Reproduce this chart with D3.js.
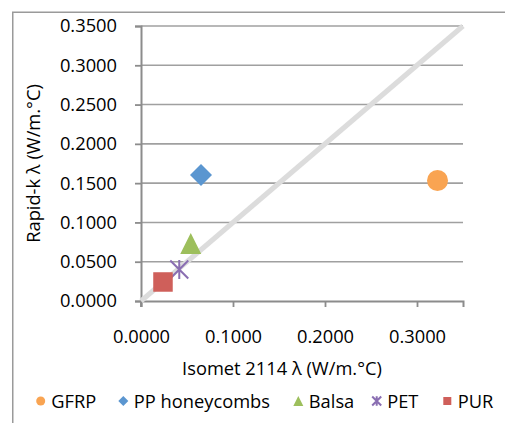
<!DOCTYPE html>
<html>
<head>
<meta charset="utf-8">
<script src="https://cdn.jsdelivr.net/npm/d3@7"></script>
<style>
  html, body { margin: 0; padding: 0; background: #fff; }
  svg text { font-family: "Open Sans", "Noto Sans", sans-serif; fill: #000; }
</style>
</head>
<body>
<svg id="chart" width="505" height="423"></svg>
<script>
// Thermal conductivity: Isomet 2114 vs Rapid-k, one point per material
const materials = ["GFRP", "PP honeycombs", "Balsa", "PET", "PUR"];
const isometValues = [0.3223, 0.0652, 0.0541, 0.0416, 0.0239];
const rapidkValues = [0.1534, 0.1604, 0.0732, 0.0401, 0.0242];
const markerShapes = ["circle", "diamond", "triangle", "star", "square"];
const seriesColors = ["#F9A452", "#5B96D0", "#9DBF5C", "#8A6EB2", "#CF5F5A"];
const xTickValues = [0, 0.1, 0.2, 0.3];
const yTickValues = [0, 0.05, 0.1, 0.15, 0.2, 0.25, 0.3, 0.35];
const xTitle = "Isomet 2114 λ (W/m.°C)";
const yTitle = "Rapid-k λ (W/m.°C)";

const FONT = "'Open Sans', 'Noto Sans', sans-serif";
const FS = 18.3;

const svg = d3.select("#chart");
const fmt = d3.format(".4f");

// outer chart frame (partly outside the view)
svg.append("rect")
  .attr("x", 12.75).attr("y", 12.25)
  .attr("width", 520).attr("height", 440)
  .attr("fill", "none").attr("stroke", "#9a9a9a").attr("stroke-width", 1.5);

const plot = { left: 141, right: 463, top: 26, bottom: 301 };
const x = d3.scaleLinear().domain([0, 0.35]).range([plot.left, plot.right]);
const y = d3.scaleLinear().domain([0, 0.35]).range([plot.bottom, plot.top]);

// horizontal gridlines
svg.append("g")
  .selectAll("line")
  .data(yTickValues.filter(v => v > 0))
  .join("line")
  .attr("x1", plot.left).attr("x2", plot.right)
  .attr("y1", d => y(d)).attr("y2", d => y(d))
  .attr("stroke", "#a0a0a0").attr("stroke-width", 1.6);

// y axis
const yAxis = svg.append("g")
  .attr("transform", `translate(${plot.left},0)`)
  .call(d3.axisLeft(y).tickValues(yTickValues).tickFormat(fmt).tickSize(6).tickPadding(18));
yAxis.select(".domain").attr("stroke", "#8c8c8c").attr("stroke-width", 2);
yAxis.selectAll(".tick line").attr("stroke", "#8c8c8c").attr("stroke-width", 1.8);
yAxis.selectAll(".tick text")
  .attr("font-size", FS).attr("font-family", FONT).attr("fill", "#000");

// x axis
const xAxis = svg.append("g")
  .attr("transform", `translate(0,${plot.bottom})`)
  .call(d3.axisBottom(x).tickValues(xTickValues).tickFormat(fmt).tickSize(6).tickPadding(23));
xAxis.select(".domain").attr("stroke", "#8c8c8c").attr("stroke-width", 2);
xAxis.selectAll(".tick line").attr("stroke", "#8c8c8c").attr("stroke-width", 1.8);
xAxis.selectAll(".tick text")
  .attr("font-size", FS).attr("font-family", FONT).attr("fill", "#000");
// y axis domain drawn down past the baseline like a tick
svg.append("line")
  .attr("x1", plot.left).attr("x2", plot.left)
  .attr("y1", plot.bottom).attr("y2", plot.bottom + 6)
  .attr("stroke", "#8c8c8c").attr("stroke-width", 1.8);

// 1:1 reference line
svg.append("line")
  .attr("x1", x(0)).attr("y1", y(0))
  .attr("x2", x(0.35)).attr("y2", y(0.35))
  .attr("stroke", "#dcdcdc").attr("stroke-width", 5);

// marker painter
function drawMarker(g, shape, color, s) {
  if (shape === "circle") {
    g.append("circle").attr("r", s / 2).attr("fill", color);
  } else if (shape === "diamond") {
    const h = s / 2;
    g.append("path").attr("d", `M0,${-h}L${h},0L0,${h}L${-h},0Z`).attr("fill", color);
  } else if (shape === "triangle") {
    const h = s / 2;
    g.append("path").attr("d", `M0,${-h}L${h},${h}L${-h},${h}Z`).attr("fill", color);
  } else if (shape === "square") {
    g.append("rect").attr("x", -s / 2).attr("y", -s / 2)
      .attr("width", s).attr("height", s).attr("fill", color);
  } else if (shape === "star") {
    const h = s / 2;
    g.append("path")
      .attr("d", `M${-h},${-h}L${h},${h}M${h},${-h}L${-h},${h}M0,${-h * 1.05}L0,${h * 1.05}`)
      .attr("stroke", color).attr("stroke-width", 2).attr("fill", "none");
  }
}

const markerSizes = [21, 22, 21, 18, 19.5];

// data points
materials.forEach((m, i) => {
  const g = svg.append("g")
    .attr("transform", `translate(${x(isometValues[i])},${y(rapidkValues[i])})`);
  drawMarker(g, markerShapes[i], seriesColors[i], markerSizes[i]);
});

// axis titles
svg.append("text")
  .attr("x", 282).attr("y", 374.5)
  .attr("text-anchor", "middle").attr("font-size", FS).attr("font-family", FONT)
  .text(xTitle);
svg.append("text")
  .attr("transform", "translate(39.5,163.5) rotate(-90)")
  .attr("text-anchor", "middle").attr("font-size", FS).attr("font-family", FONT)
  .text(yTitle);

// legend
const legendMarkX = [40.7, 123.3, 298.3, 376.7, 447.3];
const legendMarkSize = [9, 10, 10, 9, 8];
const legend = svg.append("g");
materials.forEach((m, i) => {
  const g = legend.append("g").attr("transform", `translate(${legendMarkX[i]},401)`);
  drawMarker(g, markerShapes[i], seriesColors[i], legendMarkSize[i]);
  legend.append("text")
    .attr("x", legendMarkX[i] + 10.5).attr("y", 407.5)
    .attr("font-size", FS).attr("font-family", FONT)
    .text(m);
});
</script>
</body>
</html>
